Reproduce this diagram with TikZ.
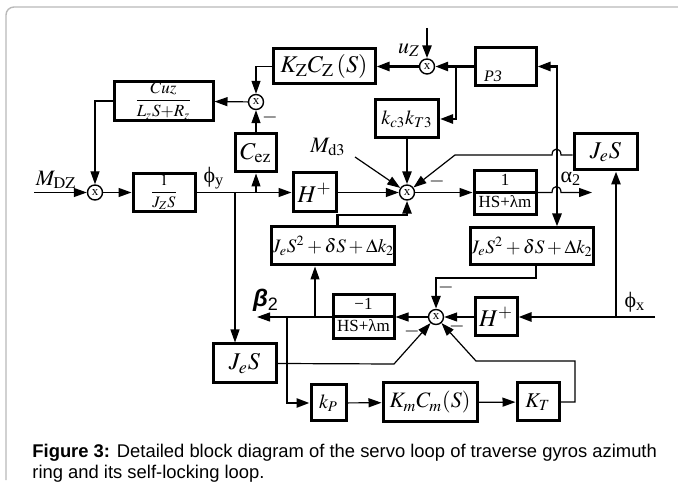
\documentclass[tikz,border=0pt]{standalone}
\usepackage{mathptmx}
\usepackage[no-math]{fontspec}
\setmainfont{Liberation Serif}
\newfontfamily\capfont{Liberation Sans}
\usetikzlibrary{arrows.meta,shapes.multipart}
\tikzset{
  blk/.style={draw,line width=1.5pt,inner sep=0pt,font=\fontsize{12}{14}\selectfont},
  fracblk/.style={draw,line width=1.5pt,rectangle split,rectangle split parts=2,
    inner xsep=1pt,inner ysep=0.25pt,font=\fontsize{8.5}{9}\selectfont},
  smr/.style={draw,circle,line width=0.7pt,inner sep=0pt,minimum size=7.5pt,
    font=\fontsize{6.5}{7}\selectfont},
  wire/.style={line width=0.6pt},
  bus/.style={line width=1.3pt},
  tip/.style={-{Triangle[length=6.5pt,width=4.5pt]}},
  tips/.style={{Triangle[length=6.5pt,width=4.5pt]}-{Triangle[length=6.5pt,width=4.5pt]}},
  mn/.style={inner sep=0pt,font=\fontsize{10}{10}\selectfont},
  lbl/.style={inner sep=0pt,font=\fontsize{11}{12}\selectfont}
}
\begin{document}
\begin{tikzpicture}[x=0.5pt,y=-0.5pt]
\useasboundingbox (0,0) rectangle (678,490);
% frame
\draw[gray!55,line width=0.7pt,rounded corners=4pt] (6,480) |- (682,7);
% blocks, top row
\node[blk,minimum width=51pt,minimum height=17.5pt] (kzcz) at (324,66.5) {$K_{\mathrm{Z}}C_{\mathrm{Z}}\,(S)$};
\node[smr] (s3) at (427,66.5) {x};
\node[blk,minimum width=30.5pt,minimum height=19pt] (p3) at (505.5,66.5) {};
\node[inner sep=0pt,font=\fontsize{8}{9}\selectfont\itshape] (p3txt) at (493,76) {P3};
\node[blk,minimum width=31.5pt,minimum height=19pt,font=\fontsize{10}{12}\selectfont] (kt3) at (407,119) {$k_{c3}k_{T3}$};
\node[blk,minimum width=49.5pt,minimum height=19pt,font=\fontsize{8.5}{9}\selectfont] (cuz) at (163.5,101) {$\displaystyle\frac{Cuz}{L_zS{+}R_z}$};
\node[smr] (s2) at (256,102) {x};
\node[blk,minimum width=20.5pt,minimum height=19pt] (cez) at (256,153) {$C_{\mathrm{ez}}$};
\node[blk,minimum width=31.5pt,minimum height=18pt] (jesr) at (605.5,152) {$J_eS$};
% main line
\node[smr] (s1) at (95,192.5) {x};
\node[blk,minimum width=31pt,minimum height=19pt,font=\fontsize{8}{9}\selectfont] (jz) at (164,192.5) {$\displaystyle\frac{1}{J_ZS}$};
\node[blk,minimum width=21.5pt,minimum height=19.5pt] (hpa) at (314.5,192.5) {$H^{+}$};
\node[smr] (s4) at (407,192.5) {x};
\node[fracblk,minimum width=31pt] (hsa) at (505,192.5) {\strut 1\nodepart{two}\strut HS+λm};
% second row
\node[blk,minimum width=61pt,minimum height=19pt,font=\fontsize{9.5}{12}\selectfont] (jq1) at (333,246) {$J_eS^2+\delta S+\Delta k_2$};
\node[blk,minimum width=61.5pt,minimum height=18.5pt,font=\fontsize{9.5}{12}\selectfont] (jq2) at (531.5,246.5) {$J_eS^2+\delta S+\Delta k_2$};
% lower loop
\node[fracblk,minimum width=30.5pt] (hsb) at (363.5,317) {\strut −1\nodepart{two}\strut HS+λm};
\node[smr] (s5) at (436,317) {x};
\node[blk,minimum width=21pt,minimum height=19pt] (hpb) at (496,317) {$H^{+}$};
\node[blk,minimum width=31.5pt,minimum height=19.5pt] (jesl) at (244.5,363.5) {$J_eS$};
\node[blk,minimum width=17.5pt,minimum height=18pt,font=\fontsize{10}{12}\selectfont] (kp) at (328.5,403) {$k_P$};
\node[blk,minimum width=47pt,minimum height=19.5pt,font=\fontsize{11}{12}\selectfont] (kmcm) at (430,402.5) {$K_mC_m(S)$};
\node[blk,minimum width=21pt,minimum height=19pt,font=\fontsize{10.5}{12}\selectfont] (ktb) at (538,402) {$K_T$};
% free ends and branch points
\coordinate (mdz) at (34,192.5);
\coordinate (byd) at (235,192.5);
\coordinate (uz) at (427,28);
\coordinate (p3b) at (456,66.5);
\coordinate (vt) at (557,66.5);
\coordinate (md3) at (355,157);
\coordinate (jb) at (407,215);
\coordinate (a2) at (592,192.5);
\coordinate (phx) at (655,317);
\coordinate (bx) at (616,317);
\coordinate (jq2o) at (536,278);
\coordinate (b2) at (257,317);
\coordinate (bq) at (315,317);
\coordinate (bk) at (287,317);
\coordinate (jl) at (394,364);
\coordinate (kt1) at (575,361);
\coordinate (kt2) at (476,361);
% labels
\node[lbl] (lmdz) at (56,180) {$M_{\mathrm{DZ}}$};
\node[lbl] (lphy) at (214,178) {ϕ\textsubscript{y}};
\node[lbl] (luz) at (409,50) {$u_Z$};
\node[lbl] (lmd3) at (328,147) {$M_{\mathrm{d3}}$};
\node[lbl] (la2) at (571,179) {α\textsubscript{2}};
\node[lbl] (lphx) at (635,302) {ϕ\textsubscript{x}};
\node[inner sep=0pt,font=\capfont\bfseries\itshape\fontsize{12}{12}\selectfont] (lb2) at (266,300) {β\textsubscript{\normalfont\capfont 2}};
% minus signs
\node[mn] (mn1) at (270,118) {$-$};
\node[mn] (mn2) at (437,182) {$-$};
\node[mn] (mn3) at (446,288) {$-$};
\node[mn] (mn4) at (457,327) {$-$};
\node[mn] (mn5) at (412,332) {$-$};
% connectors, left part
\draw[wire,tip] (mdz) -- (s1);
\draw[wire,tip] (s1) -- (jz);
\draw[wire,tip] (jz) -- (hpa);
\draw[wire,tip] (cez |- jz) -- (cez);
\draw[wire,tip] (cez) -- (s2);
\draw[wire,tip] (kzcz.west) -| (s2);
\draw[wire,tip] (s2) -- (cuz);
\draw[wire,tip] (cuz.west) -| (s1);
\draw[wire,tip] (byd) -- (byd |- jesl.north);
% top part
\draw[bus,tip] (uz) -- (s3);
\draw[bus,tip] (p3) -- (s3);
\draw[bus,tip] (s3) -- (kzcz);
\draw[bus,tip] (p3b) |- (kt3.east);
\draw[bus,tips] (p3.east) -- (vt) -- (vt |- jq2.north);
% main sum
\draw[wire,tip] (hpa) -- (s4);
\draw[bus,tip] (kt3) -- (s4);
\draw[bus,tip] (hpa.east |- jq1.north) |- (jb) -- (s4);
\draw[wire,tip] (md3) -- (s4);
\draw[wire,tip] ([yshift=-1.5pt]jesr.west) -- (561,155) .. controls (561,147) and (552,147) .. (552,155) -- (455,155) -- (s4);
\draw[wire,tip] (s4) -- (hsa);
\draw[wire,tip] (hsa.east) -- (552,192.5) .. controls (552,184.5) and (561,184.5) .. (561,192.5) -- (a2);
% lower loop
\draw[bus,tip] (phx) -- (hpb);
\draw[bus,tip] (bx) -- (bx |- jesr.south);
\draw[wire,tip] (hpb) -- (s5);
\draw[bus,tip] ([xshift=2.25pt]jq2.south) -- (jq2o) -| (s5);
\draw[wire,tip] (s5) -- (hsb);
\draw[wire,tip] (hsb.west) -- (b2);
\draw[wire,tip] (bq) -- (bq |- jq1.south);
\draw[bus,tip] (bk) |- (kp);
\draw[wire,tip] (jesl.east) -- (jl) -- (s5);
\draw[wire,tip] (kp) -- (kmcm);
\draw[wire,tip] (kmcm) -- (ktb);
\draw[wire,tip] (ktb.east) -| (kt1) -- (kt2) -- (s5);
% caption
\node[anchor=base west,inner sep=0pt,font=\capfont\fontsize{9.2}{11}\selectfont] (cap1) at (32,457) {\textbf{Figure 3:} Detailed block diagram of the servo loop of traverse gyros azimuth};
\node[anchor=base west,inner sep=0pt,font=\capfont\fontsize{9.2}{11}\selectfont] (cap2) at (32,478) {ring and its self-locking loop.};
\end{tikzpicture}
\end{document}
